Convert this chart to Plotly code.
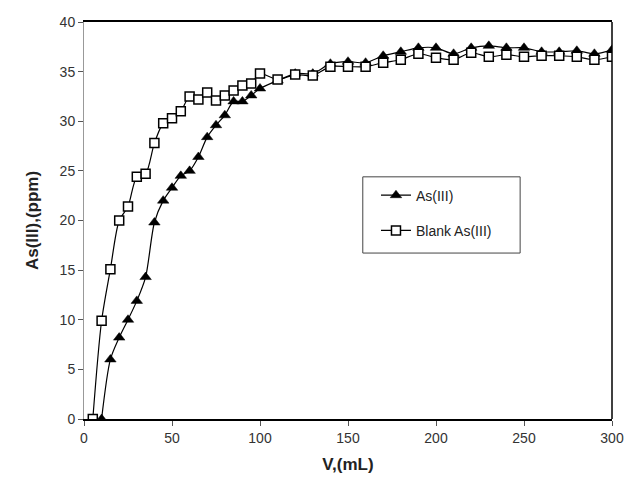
import plotly.graph_objects as go

# As(III) series (filled triangles)
v_as = [10, 15, 20, 25, 30, 35, 40, 45, 50, 55, 60, 65, 70, 75, 80, 85, 90, 95, 100,
        110, 120, 130, 140, 150, 160, 170, 180, 190, 200, 210, 220, 230, 240, 250,
        260, 270, 280, 290, 300]
c_as = [0.0, 6.0, 8.2, 10.0, 11.9, 14.3, 19.8, 22.0, 23.3, 24.5, 25.0, 26.4, 28.4,
        29.6, 30.6, 32.0, 32.0, 32.6, 33.3,
        34.1, 34.8, 34.8, 35.8, 36.0, 35.9, 36.6, 37.0, 37.4, 37.4, 36.8, 37.4,
        37.6, 37.4, 37.4, 37.0, 37.0, 37.1, 36.8, 37.2]

# Blank As(III) series (open squares)
v_blank = [5, 10, 15, 20, 25, 30, 35, 40, 45, 50, 55, 60, 65, 70, 75, 80, 85, 90, 95, 100,
           110, 120, 130, 140, 150, 160, 170, 180, 190, 200, 210, 220, 230, 240, 250,
           260, 270, 280, 290, 300]
c_blank = [0.0, 9.9, 15.1, 20.0, 21.4, 24.4, 24.7, 27.8, 29.8, 30.3, 31.0, 32.5, 32.2,
           32.9, 32.1, 32.6, 33.1, 33.6, 33.8, 34.8,
           34.2, 34.7, 34.6, 35.5, 35.5, 35.5, 35.9, 36.2, 36.8, 36.4, 36.2, 36.9,
           36.5, 36.7, 36.5, 36.6, 36.6, 36.5, 36.2, 36.5]

x_ticks = [0, 50, 100, 150, 200, 250, 300]
y_ticks = [0, 5, 10, 15, 20, 25, 30, 35, 40]

fig = go.Figure()
fig.add_trace(go.Scatter(
    x=v_as, y=c_as, name="As(III)", mode="lines+markers", legendgroup="a",
    line=dict(color="black", width=1.2, shape="spline", smoothing=0.8),
    marker=dict(symbol="triangle-up", size=10, color="black",
                line=dict(color="black", width=0.5)),
))
fig.add_trace(go.Scatter(
    x=v_blank, y=c_blank, name="Blank As(III)", mode="lines+markers", legendgroup="b",
    line=dict(color="black", width=1.2, shape="spline", smoothing=0.8),
    marker=dict(symbol="square", size=9, color="white",
                line=dict(color="black", width=1.5)),
))

font_family = "Liberation Sans, Arial, sans-serif"
fig.update_layout(
    width=625, height=483,
    margin=dict(l=84, r=13, t=22, b=64),
    paper_bgcolor="white", plot_bgcolor="white",
    font=dict(family=font_family, color="#222"),
    showlegend=True,
    legend=dict(x=0.553, y=0.603, xanchor="left", yanchor="top",
                borderwidth=0, bgcolor="rgba(0,0,0,0)",
                font=dict(size=14, color="#222"), itemwidth=30,
                tracegroupgap=14),
    xaxis=dict(range=[0, 300], tickvals=x_ticks, showgrid=False, zeroline=False,
               showline=True, linecolor="black", linewidth=1.5, mirror=True,
               ticks="outside", ticklen=5, tickcolor="#555", automargin=False,
               tickfont=dict(size=14, color="#333"),
               title=dict(text="<b>V,(mL)</b>", font=dict(size=17, color="#222"),
                          standoff=14)),
    yaxis=dict(range=[0, 40], tickvals=y_ticks, showgrid=False, zeroline=False,
               showline=True, linecolor="#999", linewidth=1, automargin=False,
               ticks="outside", ticklen=5, tickcolor="#555",
               tickfont=dict(size=14, color="#333"),
               title=dict(text="<b>As(III),(ppm)</b>", font=dict(size=17, color="#222"),
                          standoff=16)),
)
fig.add_shape(type="line", xref="paper", yref="paper", x0=1, x1=1, y0=0, y1=1,
              line=dict(color="black", width=1.5))
fig.add_shape(type="rect", xref="paper", yref="paper", x0=0.528, x1=0.826,
              y0=0.418, y1=0.610, line=dict(color="#444", width=1),
              fillcolor="rgba(0,0,0,0)")
fig.write_html("out.html")
